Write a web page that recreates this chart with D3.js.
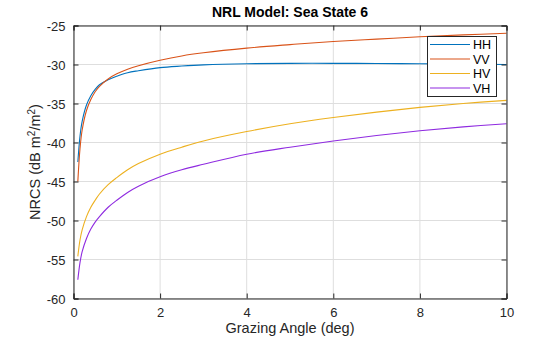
<!DOCTYPE html>
<html><head><meta charset="utf-8">
<script src="https://cdn.jsdelivr.net/npm/d3@7"></script>
<style>body{margin:0;background:#fff;}svg{display:block;font-family:"Liberation Sans",Arial,sans-serif;}</style>
</head><body>
<svg id="c" width="560" height="337"></svg>
<script>
const angles = [0.1,0.15,0.2,0.3,0.4,0.5,0.6,0.8,1,1.25,1.5,2,2.5,3,4,5,6,7,8,9,10];
const HH = [-42.5,-39.2,-37.3,-35.2,-34.0,-33.2,-32.6,-31.95,-31.5,-31.05,-30.8,-30.4,-30.2,-30.05,-29.9,-29.85,-29.85,-29.87,-29.9,-29.95,-30.0];
const VV = [-45.0,-40.8,-38.4,-35.9,-34.5,-33.5,-32.8,-31.85,-31.2,-30.6,-30.15,-29.45,-28.9,-28.5,-27.9,-27.45,-27.05,-26.75,-26.45,-26.2,-26.0];
const HV = [-54.6,-52.5,-51.2,-49.5,-48.3,-47.4,-46.6,-45.4,-44.5,-43.5,-42.7,-41.5,-40.6,-39.8,-38.6,-37.6,-36.8,-36.1,-35.5,-35.0,-34.6];
const VH = [-57.6,-55.4,-54.0,-52.3,-51.1,-50.2,-49.5,-48.3,-47.4,-46.4,-45.6,-44.4,-43.5,-42.8,-41.5,-40.6,-39.8,-39.1,-38.5,-38.0,-37.6];
const seriesNames = ["HH","VV","HV","VH"];
const colors = ["#0072BD","#D95319","#EDB120","#8F2BE0"];
const xTicks = [0,2,4,6,8,10];
const yTicks = [-60,-55,-50,-45,-40,-35,-30,-25];

const svg = d3.select("#c");
const L=73.5, R=506.5, T=25.5, B=298.5;
const x = d3.scaleLinear().domain([0,10]).range([L,R]);
const y = d3.scaleLinear().domain([-60,-25]).range([B,T]);

// grid
const g = svg.append("g");
g.selectAll(".gx").data(xTicks).enter().append("line")
  .attr("x1",d=>x(d)).attr("x2",d=>x(d)).attr("y1",T).attr("y2",B)
  .attr("stroke","#dedede").attr("stroke-width",1);
g.selectAll(".gy").data(yTicks).enter().append("line")
  .attr("y1",d=>y(d)).attr("y2",d=>y(d)).attr("x1",L).attr("x2",R)
  .attr("stroke","#dedede").attr("stroke-width",1);

// lines
const data = [HH,VV,HV,VH];
const line = d3.line().x(d=>x(d[0])).y(d=>y(d[1])).curve(d3.curveCatmullRom.alpha(0.5));
data.forEach((s,i)=>{
  svg.append("path").datum(angles.map((a,j)=>[a,s[j]]))
    .attr("d",line).attr("fill","none").attr("stroke",colors[i]).attr("stroke-width",1.1);
});

const fmt = d=>String(d);
// axes
const ax = svg.append("g").attr("transform",`translate(0,${B})`)
  .call(d3.axisBottom(x).tickValues(xTicks).tickSize(-5).tickPadding(9).tickFormat(fmt));
const axT = svg.append("g").attr("transform",`translate(0,${T})`)
  .call(d3.axisTop(x).tickValues(xTicks).tickSize(-5).tickFormat(""));
const ay = svg.append("g").attr("transform",`translate(${L},0)`)
  .call(d3.axisLeft(y).tickValues(yTicks).tickSize(-5).tickPadding(8).tickFormat(fmt));
const ayR = svg.append("g").attr("transform",`translate(${R},0)`)
  .call(d3.axisRight(y).tickValues(yTicks).tickSize(-5).tickFormat(""));
[ax,axT,ay,ayR].forEach(a=>{
  a.selectAll("path,line").attr("stroke","#262626");
  a.selectAll("text").attr("fill","#262626").style("font-size","13px").style("font-family","Liberation Sans, Arial, sans-serif");
});
ay.selectAll("text").attr("dy","0.35em");

// title & labels
svg.append("text").attr("x",(L+R)/2).attr("y",17).attr("text-anchor","middle")
  .style("font-size","14px").style("font-weight","bold").attr("fill","#000").text("NRL Model: Sea State 6");
svg.append("text").attr("x",(L+R)/2).attr("y",333).attr("text-anchor","middle")
  .style("font-size","14.5px").attr("fill","#262626").text("Grazing Angle (deg)");
const yl = svg.append("text").attr("transform",`translate(40,${(T+B)/2}) rotate(-90)`).attr("text-anchor","middle")
  .style("font-size","14.5px").attr("fill","#262626");
yl.append("tspan").text("NRCS (dB m");
yl.append("tspan").attr("baseline-shift","super").style("font-size","10px").text("2");
yl.append("tspan").text("/m");
yl.append("tspan").attr("baseline-shift","super").style("font-size","10px").text("2");
yl.append("tspan").text(")");

// legend
const lg = svg.append("g");
lg.append("rect").attr("x",427.5).attr("y",36.5).attr("width",69).attr("height",60)
  .attr("fill","#fff").attr("stroke","#262626").attr("stroke-width",1);
seriesNames.forEach((n,i)=>{
  const yy = 44.5 + i*14.5;
  lg.append("line").attr("x1",430).attr("x2",470).attr("y1",yy).attr("y2",yy).attr("stroke",colors[i]).attr("stroke-width",1.1);
  lg.append("text").attr("x",473).attr("y",yy).attr("dy","0.36em").style("font-size","12.5px").attr("fill","#000").text(n);
});
</script>
</body></html>
